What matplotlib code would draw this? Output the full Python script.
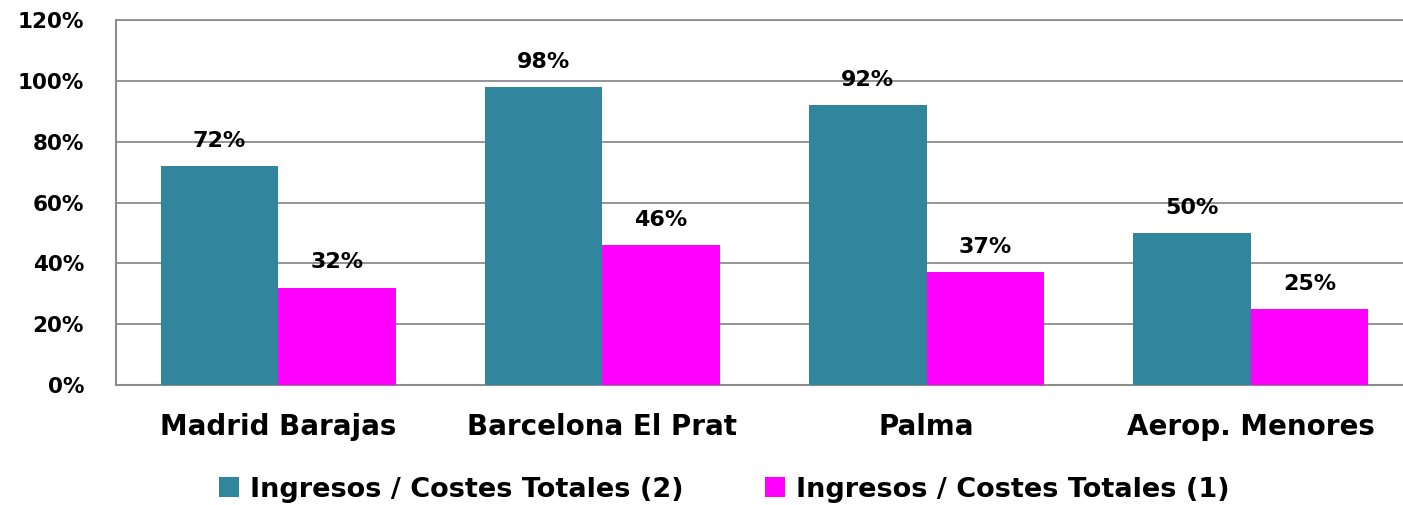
import matplotlib
matplotlib.use('Agg')
import matplotlib.pyplot as plt
import numpy as np
from matplotlib.ticker import FuncFormatter, MultipleLocator

categories = ['Madrid Barajas', 'Barcelona El Prat', 'Palma', 'Aerop. Menores']
series_names = ['Ingresos / Costes Totales (2)', 'Ingresos / Costes Totales (1)']
ratio_2 = [72, 98, 92, 50]
ratio_1 = [32, 46, 37, 25]

COLORS = ['#31859C', '#FF00FF']
GRID_COLOR = '#8C8C8C'

fig = plt.figure(figsize=(14.03, 5.05), dpi=100)
# plot area runs past the right edge of the picture, as in the original
ax = fig.add_axes([0.0827, 0.2376, 0.9244, 0.7228])

index = np.arange(len(categories))
width = 0.362
bars = []
for i, vals in enumerate([ratio_2, ratio_1]):
    b = ax.bar(index + (i - 0.5) * width, vals, width, color=COLORS[i],
               label=series_names[i], zorder=3)
    bars.append(b)
    for x, v in zip(index + (i - 0.5) * width, vals):
        ax.text(x, v + 5, '%d%%' % v, ha='center', va='bottom',
                fontsize=16, fontweight='bold', family='DejaVu Sans')

ax.set_xlim(-0.5, len(categories) - 0.5)
ax.set_ylim(0, 120)
ax.yaxis.set_major_locator(MultipleLocator(20))
ax.yaxis.set_major_formatter(FuncFormatter(lambda v, p: '%d%%' % v))
ax.grid(axis='y', color=GRID_COLOR, linewidth=1.3, zorder=0)

ax.spines['right'].set_visible(False)
ax.spines['top'].set_color(GRID_COLOR)
ax.spines['top'].set_linewidth(1.3)
for s in ['left', 'bottom']:
    ax.spines[s].set_color(GRID_COLOR)
    ax.spines[s].set_linewidth(1.5)

ax.set_xticks(index)
ax.set_xticklabels(categories, fontsize=20, fontweight='bold', family='DejaVu Sans')
ax.tick_params(axis='x', length=0, pad=20)
ax.tick_params(axis='y', length=0, pad=23, labelsize=15.5)
for t in ax.get_yticklabels():
    t.set_fontweight('bold')

leg = fig.legend(handles=bars, labels=series_names, loc='center',
                 bbox_to_anchor=(0.516, 0.03), ncol=2, frameon=False,
                 prop={'family': 'DejaVu Sans', 'weight': 'bold', 'size': 19.5},
                 handlelength=0.75, handleheight=0.75, handletextpad=0.4,
                 columnspacing=3.0)

fig.savefig('out.png', dpi=100)
